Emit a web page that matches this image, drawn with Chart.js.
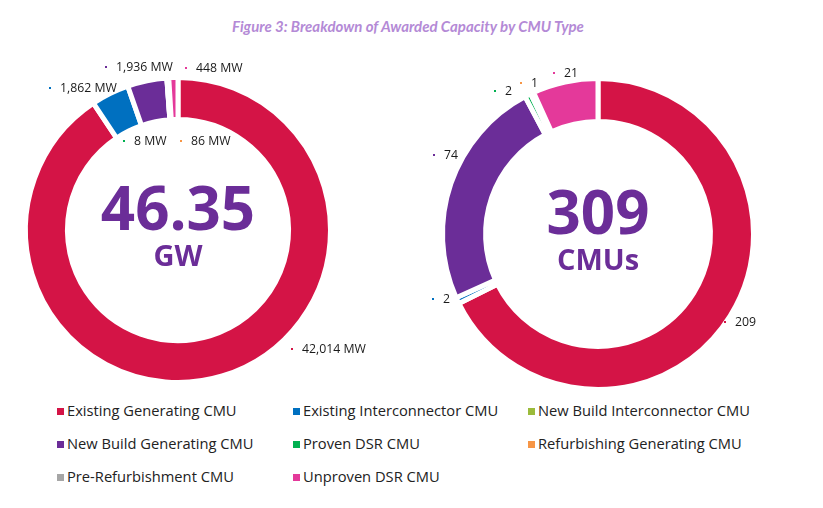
<!DOCTYPE html>
<html><head><meta charset="utf-8">
<script src="https://cdn.jsdelivr.net/npm/chart.js@4.4.1/dist/chart.umd.min.js"></script>
<style>
html,body{margin:0;padding:0;background:#fff;}
body{width:823px;height:508px;position:relative;overflow:hidden;}
#title{position:absolute;left:0;top:17px;width:816px;text-align:center;font:italic 700 15px Lato,sans-serif;color:#B48AD6;line-height:18px;}
#c1{position:absolute;left:0;top:35px;}
#c2{position:absolute;left:410px;top:35px;}
.li{position:absolute;font:14.7px 'Open Sans',sans-serif;color:#222;white-space:nowrap;line-height:20px;}
.sw{position:absolute;width:7px;height:7px;}
</style></head>
<body>
<div id="title">Figure 3: Breakdown of Awarded Capacity by CMU Type</div>
<canvas id="c1" width="410" height="365"></canvas>
<canvas id="c2" width="413" height="365"></canvas>
<div id="legend"></div>
<script>
// ---- data ----
const categories = ['Existing Generating CMU','Existing Interconnector CMU','New Build Interconnector CMU','New Build Generating CMU','Proven DSR CMU','Refurbishing Generating CMU','Pre-Refurbishment CMU','Unproven DSR CMU'];
const colors = ['#D41446','#0070C0','#9BBB3B','#6B2D98','#00B050','#F79646','#A6A6A6','#E4399A'];
const capacityMW = [42014, 1862, 0, 1936, 8, 86, 0, 448];
const cmuCount = [209, 2, 0, 74, 2, 1, 0, 21];
// label dot placement relative to the doughnut centre (null = no label)
const capacityLabelOffsets = [[114,119],[-128,-142],null,[-72,-163],[-54,-89],[3,-89],null,[8,-162]];
const countLabelOffsets = [[127,88],[-165,65],null,[-164,-79],[-103,-143],[-77,-151],null,[-44,-161]];

const purple = '#6B2D98';

function labelPlugin(offsets, fmt){
  return {
    id:'sliceLabels',
    afterDatasetsDraw(chart){
      const ctx = chart.ctx;
      const meta = chart.getDatasetMeta(0);
      const ds = chart.data.datasets[0];
      ctx.save();
      ctx.font = '12.3px "Open Sans", sans-serif';
      ctx.textBaseline = 'middle';
      ctx.textAlign = 'left';
      meta.data.forEach((arc,i)=>{
        const off = offsets[i];
        if(!off || !ds.data[i]) return;
        const px = arc.x + off[0], py = arc.y + off[1];
        ctx.fillStyle = colors[i];
        ctx.fillRect(px-1, py-1, 2, 2);
        ctx.fillStyle = '#1a1a1a';
        ctx.fillText(fmt(ds.data[i]), px+10, py);
      });
      ctx.restore();
    }
  };
}
function centerPlugin(bigText, unit){
  return {
    id:'centerText',
    afterDatasetsDraw(chart){
      const arc = chart.getDatasetMeta(0).data[0];
      const ctx = chart.ctx;
      ctx.save();
      ctx.fillStyle = purple;
      ctx.textAlign = 'center';
      ctx.textBaseline = 'middle';
      ctx.font = '700 60px "Open Sans", sans-serif';
      ctx.fillText(bigText, arc.x, arc.y - 17);
      ctx.font = '700 29px "Open Sans", sans-serif';
      ctx.fillText(unit, arc.x, arc.y + 28);
      ctx.restore();
    }
  };
}
function makeChart(id, values, cutout, padding, plugins){
  return new Chart(document.getElementById(id), {
    type:'doughnut',
    data:{labels:categories, datasets:[{data:values, backgroundColor:colors, borderColor:'#fff', borderWidth:5, borderJoinStyle:'miter', hoverOffset:0}]},
    options:{
      responsive:false, animation:false, cutout:cutout, rotation:0,
      layout:{padding:padding},
      plugins:{legend:{display:false}, title:{display:false}, tooltip:{enabled:false}}
    },
    plugins:plugins
  });
}
const totalGW = (capacityMW.reduce((a,b)=>a+b,0)/1000).toFixed(2);
const totalCMU = String(cmuCount.reduce((a,b)=>a+b,0));
makeChart('c1', capacityMW, '72.5%', {left:23, top:40, right:77, bottom:15},
  [labelPlugin(capacityLabelOffsets, v=>v.toLocaleString('en-US')+' MW'), centerPlugin(totalGW,'GW')]);
makeChart('c2', cmuCount, '72.3%', {left:30, top:41, right:67, bottom:8},
  [labelPlugin(countLabelOffsets, v=>String(v)), centerPlugin(totalCMU,'CMUs')]);

// ---- legend (3 columns) ----
const legend = document.getElementById('legend');
const colX = [57, 293, 528], rowY = [411, 444, 477];
categories.forEach((c,i)=>{
  const x = colX[i%3], y = rowY[Math.floor(i/3)];
  const sw = document.createElement('div');
  sw.className='sw'; sw.style.left=x+'px'; sw.style.top=(y-3.5)+'px'; sw.style.background=colors[i];
  const t = document.createElement('div');
  t.className='li'; t.style.left=(x+10)+'px'; t.style.top=(y-11)+'px'; t.textContent=c;
  legend.appendChild(sw); legend.appendChild(t);
});
</script>
</body></html>
